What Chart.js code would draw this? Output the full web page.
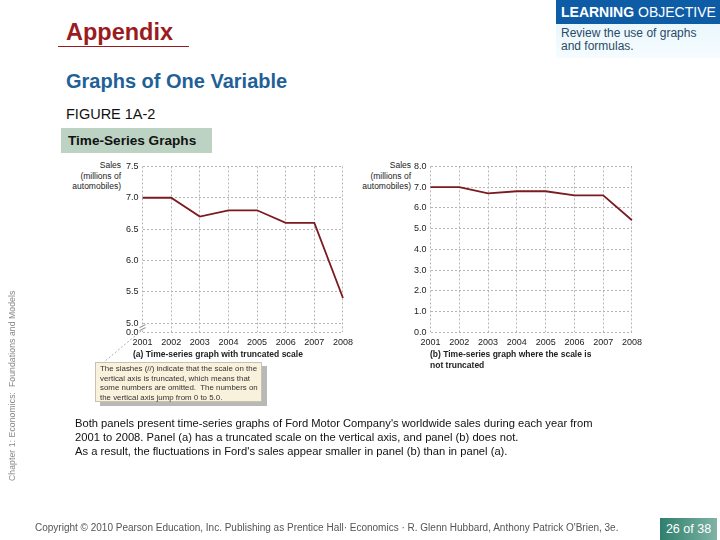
<!DOCTYPE html>
<html>
<head>
  <title>Time-Series Graphs</title>
  <script src="https://cdn.jsdelivr.net/npm/chart.js"></script>
  <style>
    body { margin: 0; width: 720px; height: 540px; position: relative; background: #fff; font-family: "Liberation Sans", Arial, sans-serif; overflow: hidden; }
    .abs { position: absolute; white-space: nowrap; }
    #appendix { left: 66px; top: 19px; font-size: 23.5px; font-weight: bold; color: #9b1c20; }
    #rule { left: 58px; top: 46px; width: 131px; height: 1px; background: #9b1c20; }
    #loHead { left: 556px; top: 0; width: 164px; height: 24px; background: #0f5ca6; color: #fff; font-size: 14px; line-height: 24px; padding-left: 5px; box-sizing: border-box; }
    #loBody { left: 556px; top: 24px; width: 164px; height: 34px; background: linear-gradient(#eaf7fd, #f6fcff); color: #2a4a66; font-size: 12px; line-height: 13px; padding: 3px 0 0 5px; box-sizing: border-box; white-space: normal; }
    #section { left: 66px; top: 70px; font-size: 20px; font-weight: bold; color: #1f6197; }
    #figure { left: 66px; top: 106px; font-size: 14.5px; color: #111; }
    #tsbox { left: 61px; top: 128px; width: 151px; height: 25px; background: #bcd3c3; font-size: 13.6px; font-weight: bold; line-height: 25px; padding-left: 7px; box-sizing: border-box; color: #111; }
    .ytitle { font-size: 8.5px; line-height: 10.5px; text-align: right; color: #222; }
    .cap { font-size: 8.5px; font-weight: bold; color: #222; line-height: 11px; }
    #callout { left: 95px; top: 362px; width: 167px; height: 40px; background: #f8f1dc; border: 1px solid #c8c2ae; box-shadow: 5px 4px 0 #b8b8b8; font-size: 7.9px; line-height: 9.6px; padding: 1px 0 0 4px; box-sizing: border-box; color: #333; }
    #body { left: 75px; top: 416px; font-size: 11.2px; line-height: 14px; color: #111; }
    #side { left: 7px; top: 481px; transform-origin: 0 0; transform: rotate(-90deg); font-size: 8.6px; color: #888; letter-spacing: 0.1px; }
    #copy { left: 35px; top: 522px; font-size: 10px; color: #555; }
    #page { left: 660px; top: 518px; width: 57px; height: 22px; background: linear-gradient(90deg, #2f7f6c, #7fb3a5); color: #fff; font-size: 12.5px; line-height: 22px; text-align: center; }
    canvas { position: absolute; }
  </style>
</head>
<body>

  <div class="abs" id="appendix">Appendix</div>
  <div class="abs" id="rule"></div>
  <div class="abs" id="loHead"><b>LEARNING</b> OBJECTIVE</div>
  <div class="abs" id="loBody">Review the use of graphs<br>and formulas.</div>
  <div class="abs" id="section">Graphs of One Variable</div>
  <div class="abs" id="figure">FIGURE 1A-2</div>
  <div class="abs" id="tsbox">Time-Series Graphs</div>

  <div class="abs ytitle" style="right:599px; top:160px;">Sales<br>(millions of<br>automobiles)</div>
  <div class="abs ytitle" style="right:309px; top:160px;">Sales<br>(millions of<br>automobiles)</div>

  <canvas id="chartA" width="236" height="196" style="left:122px; top:157px;"></canvas>
  <canvas id="chartB" width="237" height="196" style="left:410px; top:157px;"></canvas>

  <div class="abs cap" style="left:133px; top:349px;">(a) Time-series graph with truncated scale</div>
  <div class="abs cap" style="left:430px; top:349px;">(b) Time-series graph where the scale is<br>not truncated</div>

  <svg class="abs" style="left:0; top:0;" width="720" height="540">
    <line x1="141" y1="331" x2="104" y2="362" stroke="#999" stroke-width="0.8" stroke-dasharray="2,2"/>
  </svg>
  <div class="abs" id="callout">The slashes (//) indicate that the scale on the<br>vertical axis is truncated, which means that<br>some numbers are omitted.&nbsp; The numbers on<br>the vertical axis jump from 0 to 5.0.</div>

  <div class="abs" id="body">Both panels present time-series graphs of Ford Motor Company's worldwide sales during each year from<br>2001 to 2008. Panel (a) has a truncated scale on the vertical axis, and panel (b) does not.<br>As a result, the fluctuations in Ford's sales appear smaller in panel (b) than in panel (a).</div>

  <div class="abs" id="side">Chapter 1: Economics:&nbsp; Foundations and Models</div>
  <div class="abs" id="copy">Copyright © 2010 Pearson Education, Inc. Publishing as Prentice Hall· Economics · R. Glenn Hubbard, Anthony Patrick O'Brien, 3e.</div>
  <div class="abs" id="page">26 of 38</div>

  <script>
    // Ford worldwide sales, millions of automobiles
    const years = ['2001', '2002', '2003', '2004', '2005', '2006', '2007', '2008'];
    const sales = [7.0, 7.0, 6.7, 6.8, 6.8, 6.6, 6.6, 5.4];

    // panel (a): truncated axis, the bottom tick stands for 0.0
    const truncBreak = 4.855;
    const ticksA = [truncBreak, 5.0, 5.5, 6.0, 6.5, 7.0, 7.5];
    // panel (b): full axis
    const ticksB = [0, 1, 2, 3, 4, 5, 6, 7, 8];

    const lineColor = '#7b1a1f';
    const gridColor = '#b5b5b5';
    const tickFont = { family: 'Liberation Sans', size: 9 };

    // the little "//" marks on the truncated axis
    const slashPlugin = {
      id: 'slashes',
      afterDraw(chart) {
        if (chart.canvas.id !== 'chartA') return;
        const c = chart.ctx;
        const x = chart.chartArea.left;
        const y = chart.scales.y.getPixelForValue((truncBreak + 5.0) / 2);
        c.save();
        c.strokeStyle = '#666';
        c.lineWidth = 0.8;
        c.fillStyle = '#fff';
        c.fillRect(x - 3, y - 2, 6, 4);
        [-1.5, 1.5].forEach(d => {
          c.beginPath();
          c.moveTo(x - 3, y + d + 1.5);
          c.lineTo(x + 3, y + d - 1.5);
          c.stroke();
        });
        c.restore();
      }
    };

    function makeChart(id, tickList, min, max, label) {
      return new Chart(document.getElementById(id), {
        type: 'line',
        data: {
          labels: years,
          datasets: [{
            data: sales,
            borderColor: lineColor,
            borderWidth: 1.8,
            pointRadius: 0,
            tension: 0,
            fill: false
          }]
        },
        options: {
          responsive: false,
          animation: false,
          layout: { padding: { top: 0, right: 4, left: 0, bottom: 0 } },
          plugins: { legend: { display: false }, tooltip: { enabled: false } },
          scales: {
            x: {
              offset: false,
              grid: { color: gridColor, drawTicks: false },
              border: { display: false, dash: [2, 2] },
              ticks: { color: '#222', font: tickFont, padding: 5, maxRotation: 0, autoSkip: false }
            },
            y: {
              min: min,
              max: max,
              afterBuildTicks: axis => { axis.ticks = tickList.map(v => ({ value: v })); },
              grid: { color: gridColor, drawTicks: false },
              border: { display: false, dash: [2, 2] },
              ticks: { color: '#222', font: tickFont, padding: 4, callback: label }
            }
          }
        },
        plugins: [slashPlugin]
      });
    }

    makeChart('chartA', ticksA, truncBreak, 7.5, v => (v < 5 ? '0.0' : v.toFixed(1)));
    makeChart('chartB', ticksB, 0, 8, v => v.toFixed(1));
  </script>

</body>
</html>
